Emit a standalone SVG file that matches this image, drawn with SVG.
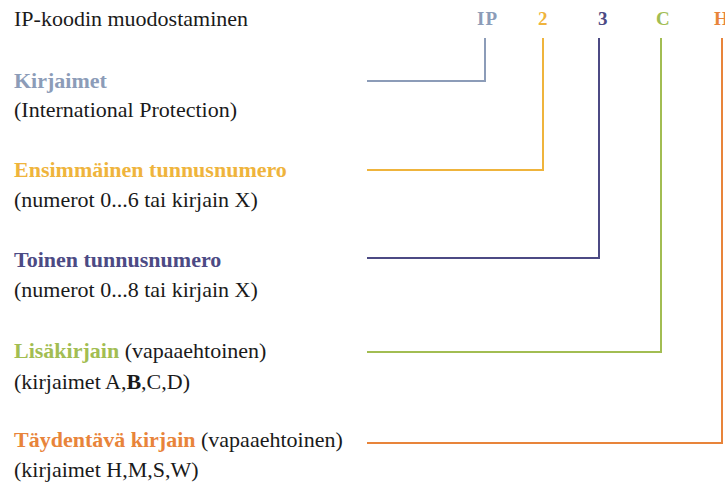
<svg xmlns="http://www.w3.org/2000/svg" width="725" height="482" viewBox="0 0 725 482">
<style>
text{font-family:"Liberation Serif","Times New Roman",serif;font-size:22px;fill:#1a1a1a}
.b{font-weight:bold}
.k{font-size:19px;font-weight:bold}
.ip{fill:#8c9cb8}.n2{fill:#efb43c}.n3{fill:#4c4a84}.c{fill:#a2bd52}.h{fill:#e8843a}
.ln{fill:none;stroke-width:2}
</style>
<rect width="725" height="482" fill="#ffffff"/>
<g id="title"><text x="14" y="26">IP-koodin muodostaminen</text></g>
<g id="code">
<text class="k ip" x="477" y="25" letter-spacing="1">IP</text>
<text class="k n2" x="538" y="25">2</text>
<text class="k n3" x="598" y="25">3</text>
<text class="k c" x="656" y="25">C</text>
<text class="k h" x="714" y="25">H</text>
</g>
<g id="kirjaimet">
<text class="b ip" x="14" y="88">Kirjaimet</text>
<text x="14" y="117">(International Protection)</text>
</g>
<g id="ensimmainen">
<text class="b n2" x="14" y="177">Ensimmäinen tunnusnumero</text>
<text x="14" y="207">(numerot 0...6 tai kirjain X)</text>
</g>
<g id="toinen">
<text class="b n3" x="14" y="267">Toinen tunnusnumero</text>
<text x="14" y="297">(numerot 0...8 tai kirjain X)</text>
</g>
<g id="lisakirjain">
<text x="14" y="358"><tspan class="b c">Lisäkirjain</tspan> (vapaaehtoinen)</text>
<text x="14" y="389">(kirjaimet A,<tspan class="b">B</tspan>,C,D)</text>
</g>
<g id="taydentava">
<text x="14" y="447"><tspan class="b h">Täydentävä kirjain</tspan> (vapaaehtoinen)</text>
<text x="14" y="477">(kirjaimet H,M,S,W)</text>
</g>
<g id="connectors">
<polyline class="ln" stroke="#8c9cb8" points="485,38 485,81 367,81"/>
<polyline class="ln" stroke="#efb43c" points="543,38 543,170 367,170"/>
<polyline class="ln" stroke="#4c4a84" points="599,38 599,258 367,258"/>
<polyline class="ln" stroke="#a2bd52" points="661,38 661,352 367,352"/>
<polyline class="ln" stroke="#e8843a" points="722,38 722,443 367,443"/>
</g>
</svg>
